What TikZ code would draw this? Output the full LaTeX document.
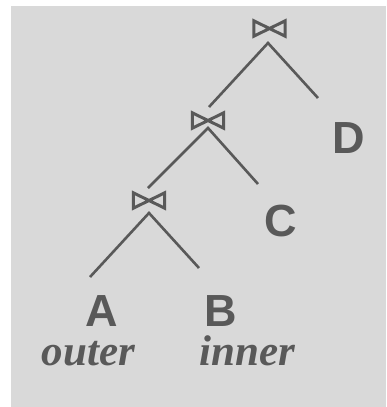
\documentclass[tikz,border=0pt]{standalone}
\usepackage{fontspec}
\setmainfont{Liberation Serif}
\setsansfont{Liberation Sans}
\definecolor{panel}{HTML}{D9D9D9}
\definecolor{ink}{HTML}{595959}
\begin{document}
\begin{tikzpicture}[x=1pt,y=-1pt,
  joinop/.style={minimum width=31pt,minimum height=15pt,inner sep=0pt},
  bowtie/.style={draw=ink,line width=3pt,line join=miter},
  treeline/.style={draw=ink,line width=2.6pt},
  rel/.style={text=ink,font=\sffamily\bfseries\fontsize{45}{45}\selectfont,anchor=base,inner sep=0pt},
  role/.style={text=ink,font=\rmfamily\bfseries\itshape\fontsize{43}{43}\selectfont,anchor=base,inner sep=0pt}]
\useasboundingbox (0,0) rectangle (386,407);
\fill[white] (0,0) rectangle (386,407);
\fill[panel] (11,6) rectangle (386,407);

% join operators
\node[joinop] (j3) at (269.5,28.5) {};
\node[joinop] (j2) at (208,120.5) {};
\node[joinop] (j1) at (149,200.5) {};
\foreach \j in {j1,j2,j3}
  \draw[bowtie] (\j.north west) -- (\j.south east) -- (\j.north east)
    -- (\j.south west) -- cycle;

% free ends of the tree edges
\coordinate (t3) at (268,43);
\coordinate (l3) at (209,107);
\coordinate (r3) at (318,98);
\coordinate (t2) at (208,128);
\coordinate (l2) at (148,188);
\coordinate (r2) at (258,184);
\coordinate (t1) at (149,213);
\coordinate (l1) at (90,277);
\coordinate (r1) at (199,268);

\draw[treeline] (l3) -- (t3) -- (r3);
\draw[treeline] (l2) -- (t2) -- (r2);
\draw[treeline] (l1) -- (t1) -- (r1);

% relations
\node[rel] (A) at (102,326) {A};
\node[rel] (B) at (220.5,326) {B};
\node[rel] (C) at (280.5,236) {C};
\node[rel] (D) at (349,153) {D};

% roles
\node[role] (outer) at (88.5,365) {outer};
\node[role] (inner) at (247.5,365) {inner};
\end{tikzpicture}
\end{document}
